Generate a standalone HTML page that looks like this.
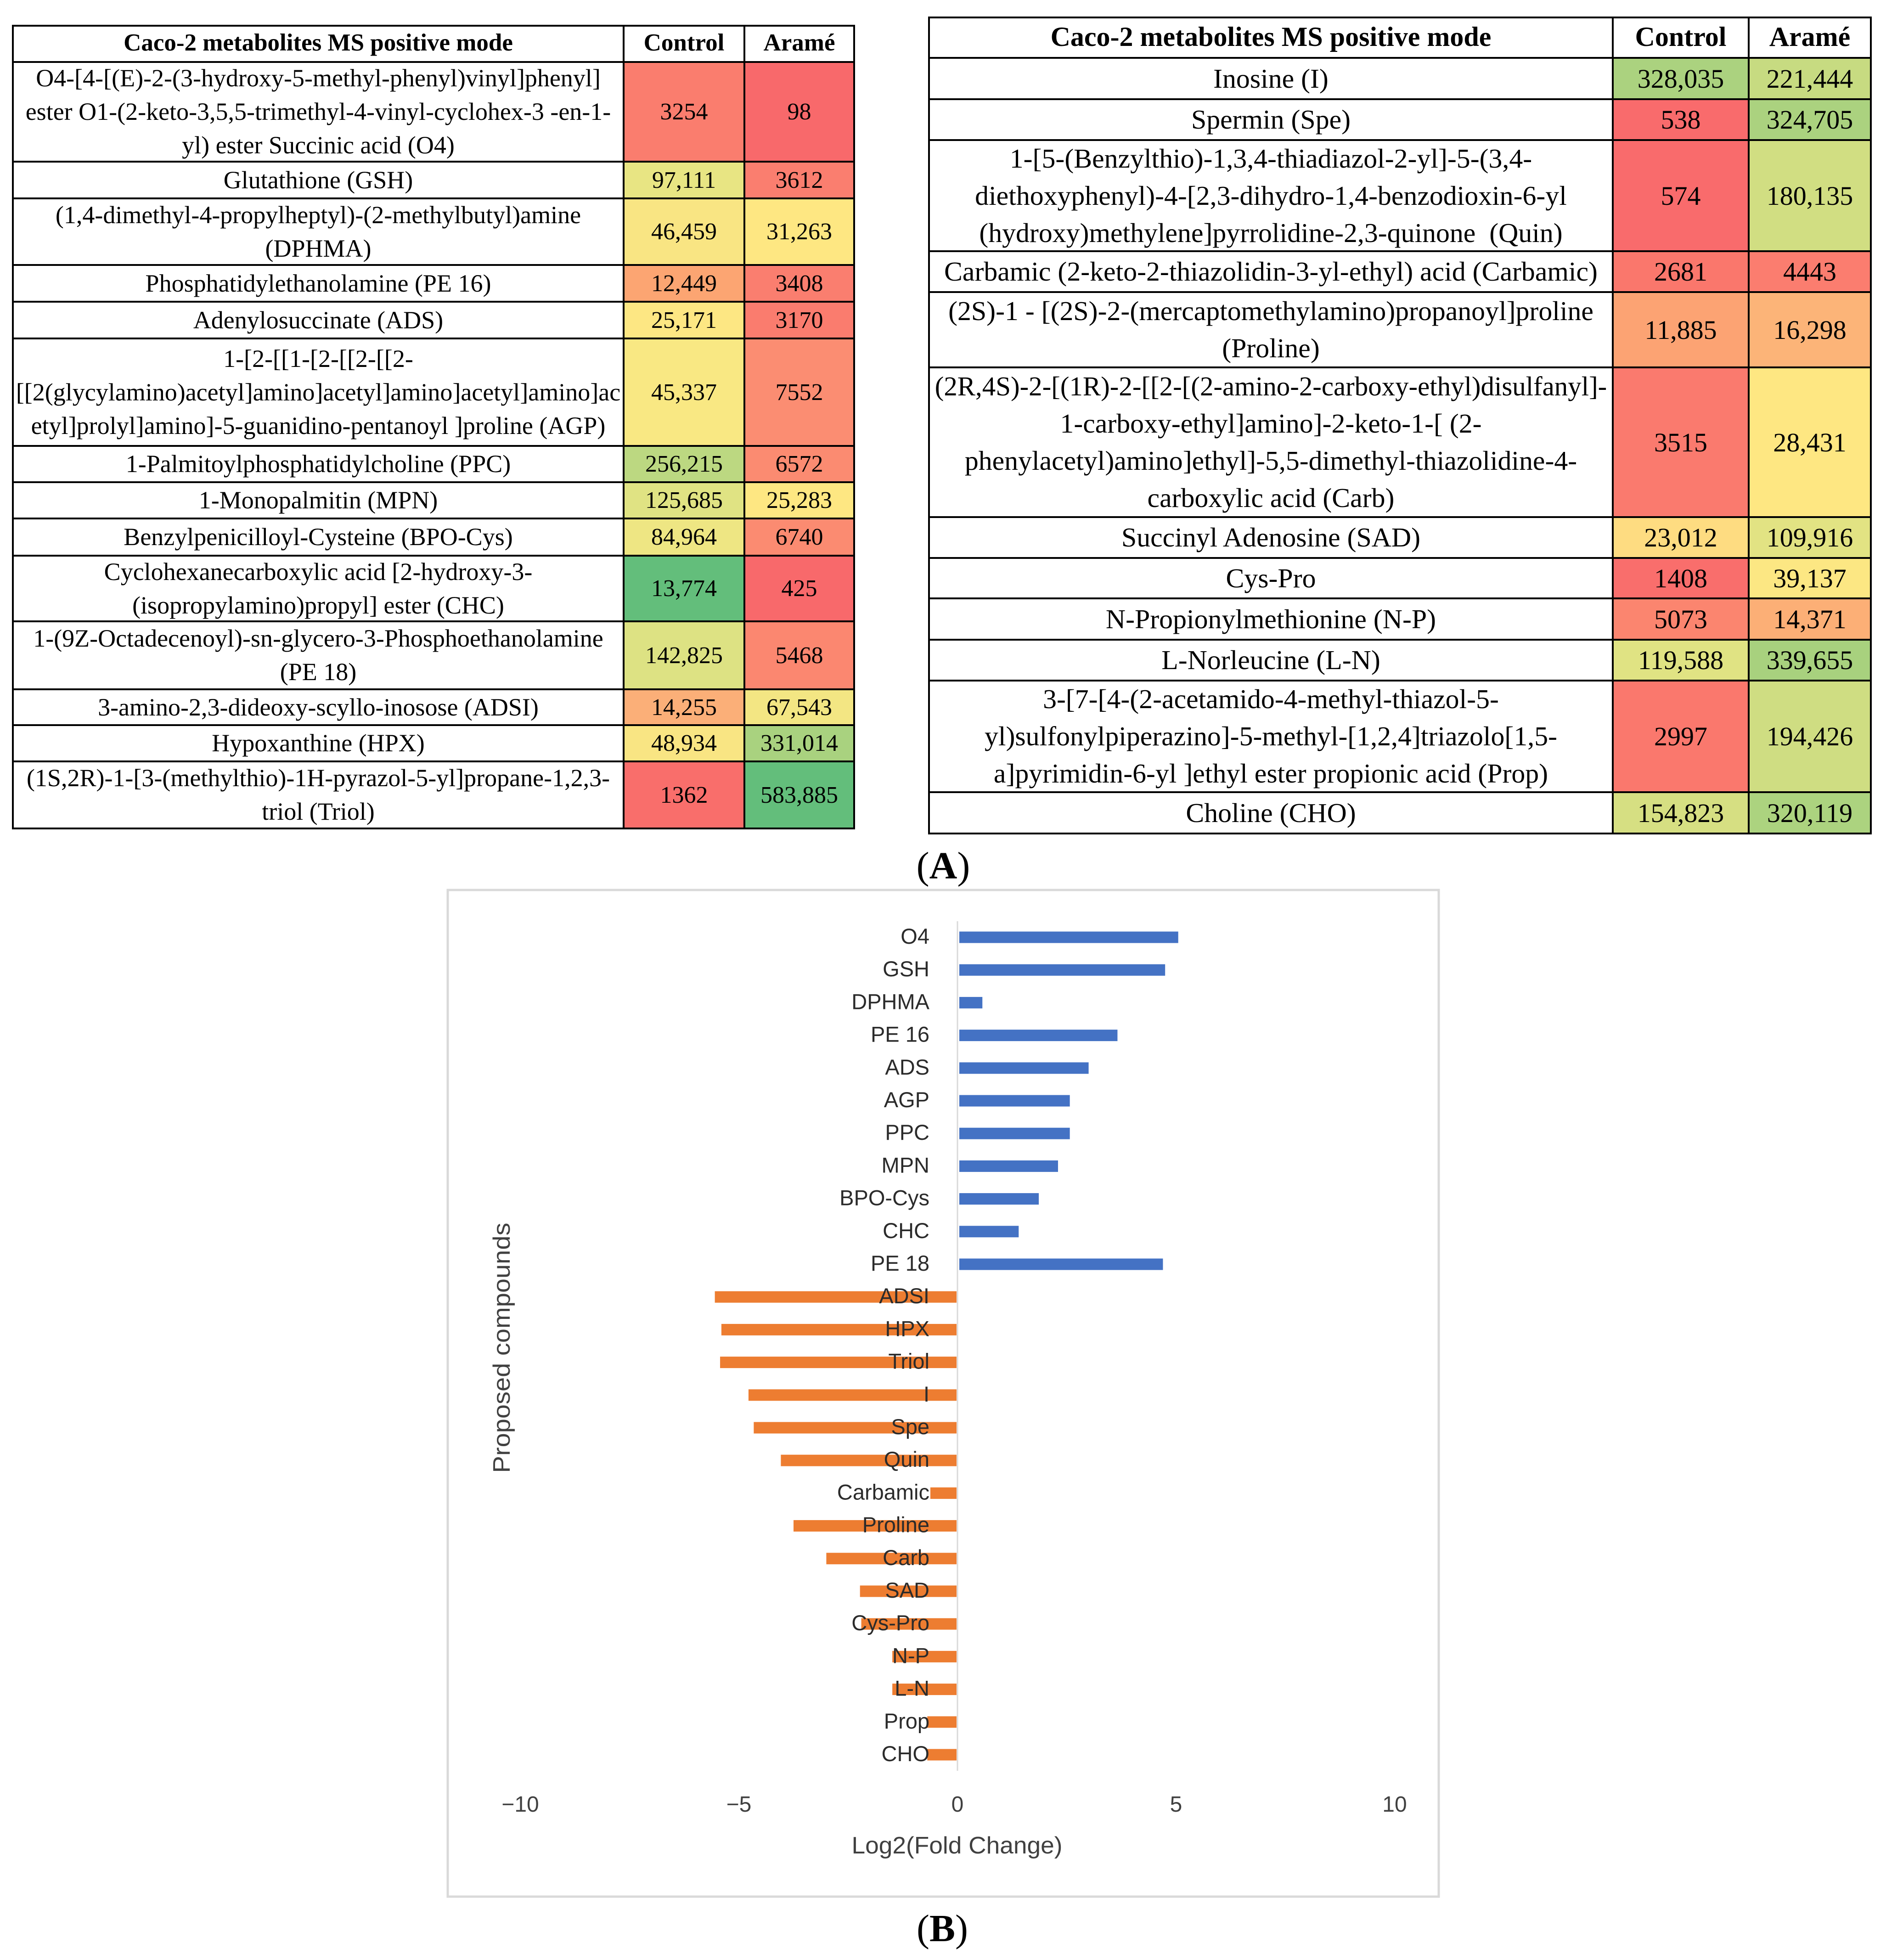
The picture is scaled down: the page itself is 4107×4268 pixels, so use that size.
<!DOCTYPE html>
<html lang="en">
<head>
<meta charset="utf-8">
<title>Caco-2 metabolites MS positive mode</title>
<style>
html,body{margin:0;padding:0;background:#fff;width:4107px;height:4268px;overflow:hidden}
body{position:relative;font-family:"Liberation Serif",serif;color:#000}
.tbl{position:absolute;display:grid;background:#000;gap:4px;padding:4px}
.tbl>div{background:#fff;display:flex;align-items:center;justify-content:center;text-align:center;white-space:nowrap;overflow:visible}
.tbl>div>.cell-text{display:block}
#table-left{left:26px;top:54px;grid-template-columns:1326px 259px 235px;grid-template-rows:75px 213px 76px 141px 76px 76px 230px 75px 75px 77px 139px 144px 74px 75px 142px;font-size:52px;line-height:73px}
#table-right{left:2021px;top:36px;grid-template-columns:1485px 292px 262px;grid-template-rows:84px 86px 85px 238px 85px 160px 322px 85px 84px 86px 85px 239px 86px;font-size:58px;line-height:81px}
#table-left>div:nth-child(3n+1):not(.h){font-size:54px}
#table-right>div:nth-child(3n+1):not(.h){font-size:59.8px}
#table-left .h{font-weight:bold;font-size:53px;padding-bottom:4px;box-sizing:border-box}
#table-right .h{font-weight:bold;font-size:60px;padding-bottom:4px;box-sizing:border-box}
.cap{position:absolute;font-size:84px;line-height:90px;transform:translateX(-50%);white-space:nowrap}
svg{position:absolute;left:0;top:0}
svg text{font-family:"Liberation Sans",sans-serif}
</style>
</head>
<body>

<div class="tbl" id="table-left">
<div class="h">Caco-2 metabolites MS positive mode</div><div class="h">Control</div><div class="h">Aramé</div>
<div><span class="cell-text">O4-[4-[(E)-2-(3-hydroxy-5-methyl-phenyl)vinyl]phenyl]<br>ester O1-(2-keto-3,5,5-trimethyl-4-vinyl-cyclohex-3 -en-1-<br>yl) ester Succinic acid (O4)</span></div><div style="background:#fa7d6e">3254</div><div style="background:#f8696b">98</div>
<div>Glutathione (GSH)</div><div style="background:#e8e583">97,111</div><div style="background:#fa7e6f">3612</div>
<div><span class="cell-text">(1,4-dimethyl-4-propylheptyl)-(2-methylbutyl)amine<br>(DPHMA)</span></div><div style="background:#f9e583">46,459</div><div style="background:#fee782">31,263</div>
<div>Phosphatidylethanolamine (PE 16)</div><div style="background:#fca572">12,449</div><div style="background:#fa7e6f">3408</div>
<div>Adenylosuccinate (ADS)</div><div style="background:#fde783">25,171</div><div style="background:#fa7c6e">3170</div>
<div><span class="cell-text">1-[2-[[1-[2-[[2-[[2-<br>[[2(glycylamino)acetyl]amino]acetyl]amino]acetyl]amino]ac<br>etyl]prolyl]amino]-5-guanidino-pentanoyl ]proline (AGP)</span></div><div style="background:#f9e883">45,337</div><div style="background:#fb8d72">7552</div>
<div>1-Palmitoylphosphatidylcholine (PPC)</div><div style="background:#bcd881">256,215</div><div style="background:#fb8b71">6572</div>
<div>1-Monopalmitin (MPN)</div><div style="background:#e0e383">125,685</div><div style="background:#fee782">25,283</div>
<div>Benzylpenicilloyl-Cysteine (BPO-Cys)</div><div style="background:#eee683">84,964</div><div style="background:#fb8b71">6740</div>
<div><span class="cell-text">Cyclohexanecarboxylic acid [2-hydroxy-3-<br>(isopropylamino)propyl] ester (CHC)</span></div><div style="background:#63be7b">13,774</div><div style="background:#f8696b">425</div>
<div><span class="cell-text">1-(9Z-Octadecenoyl)-sn-glycero-3-Phosphoethanolamine<br>(PE 18)</span></div><div style="background:#dde283">142,825</div><div style="background:#fb8770">5468</div>
<div>3-amino-2,3-dideoxy-scyllo-inosose (ADSI)</div><div style="background:#fbaf78">14,255</div><div style="background:#f3e683">67,543</div>
<div>Hypoxanthine (HPX)</div><div style="background:#f9e583">48,934</div><div style="background:#a9d27f">331,014</div>
<div><span class="cell-text">(1S,2R)-1-[3-(methylthio)-1H-pyrazol-5-yl]propane-1,2,3-<br>triol (Triol)</span></div><div style="background:#f96e6b">1362</div><div style="background:#63be7b">583,885</div>
</div>

<div class="tbl" id="table-right">
<div class="h">Caco-2 metabolites MS positive mode</div><div class="h">Control</div><div class="h">Aramé</div>
<div>Inosine (I)</div><div style="background:#abd27f">328,035</div><div style="background:#c7db81">221,444</div>
<div>Spermin (Spe)</div><div style="background:#f96b6c">538</div><div style="background:#abd27f">324,705</div>
<div><span class="cell-text">1-[5-(Benzylthio)-1,3,4-thiadiazol-2-yl]-5-(3,4-<br>diethoxyphenyl)-4-[2,3-dihydro-1,4-benzodioxin-6-yl<br>(hydroxy)methylene]pyrrolidine-2,3-quinone&nbsp; (Quin)</span></div><div style="background:#f96b6c">574</div><div style="background:#d1de82">180,135</div>
<div>Carbamic (2-keto-2-thiazolidin-3-yl-ethyl) acid (Carbamic)</div><div style="background:#fa776c">2681</div><div style="background:#fb7d6f">4443</div>
<div><span class="cell-text">(2S)-1 - [(2S)-2-(mercaptomethylamino)propanoyl]proline<br>(Proline)</span></div><div style="background:#fca373">11,885</div><div style="background:#fcb478">16,298</div>
<div><span class="cell-text"><span style="font-size:58.9px">(2R,4S)-2-[(1R)-2-[[2-[(2-amino-2-carboxy-ethyl)disulfanyl]-</span><br>1-carboxy-ethyl]amino]-2-keto-1-[ (2-<br>phenylacetyl)amino]ethyl]-5,5-dimethyl-thiazolidine-4-<br>carboxylic acid (Carb)</span></div><div style="background:#fa7a6e">3515</div><div style="background:#fee782">28,431</div>
<div>Succinyl Adenosine (SAD)</div><div style="background:#fedc81">23,012</div><div style="background:#e2e383">109,916</div>
<div>Cys-Pro</div><div style="background:#f96e6c">1408</div><div style="background:#fce783">39,137</div>
<div>N-Propionylmethionine (N-P)</div><div style="background:#fb856f">5073</div><div style="background:#fcaf76">14,371</div>
<div>L-Norleucine (L-N)</div><div style="background:#e0e383">119,588</div><div style="background:#a8d17e">339,655</div>
<div><span class="cell-text">3-[7-[4-(2-acetamido-4-methyl-thiazol-5-<br>yl)sulfonylpiperazino]-5-methyl-[1,2,4]triazolo[1,5-<br>a]pyrimidin-6-yl ]ethyl ester propionic acid (Prop)</span></div><div style="background:#fa786d">2997</div><div style="background:#cfdd82">194,426</div>
<div>Choline (CHO)</div><div style="background:#d6df82">154,823</div><div style="background:#acd37f">320,119</div>
</div>

<div class="cap" style="left:2054px;top:1841px">(<b>A</b>)</div>
<div class="cap" style="left:2052px;top:4155px">(<b>B</b>)</div>

<svg id="chart" width="4107" height="4268" viewBox="0 0 4107 4268" xmlns="http://www.w3.org/2000/svg">
<rect x="975" y="1938" width="2158" height="2192" fill="#fff" stroke="#d9d9d9" stroke-width="5"/>
</svg>

<script>
const categories = ["O4","GSH","DPHMA","PE 16","ADS","AGP","PPC","MPN","BPO-Cys","CHC","PE 18","ADSI","HPX","Triol","I","Spe","Quin","Carbamic","Proline","Carb","SAD","Cys-Pro","N-P","L-N","Prop","CHO"];
const foldChangeValues = [5.05,4.75,0.57,3.66,3.0,2.57,2.57,2.3,1.86,1.4,4.7,-5.55,-5.4,-5.43,-4.78,-4.66,-4.04,-0.62,-3.75,-3.0,-2.23,-2.2,-1.49,-1.49,-0.69,-0.69];
const xTickValues = [-10,-5,0,5,10];
const xAxisTitle = "Log2(Fold Change)";
const yAxisTitle = "Proposed compounds";

const svg = document.getElementById('chart');
const NS = 'http://www.w3.org/2000/svg';
const xScale = v => 2085 + 95.2 * v;
const yScale = i => 2041 + 71.2 * i;
const barHeight = 25;

function make(tag, attrs, parent) {
  const el = document.createElementNS(NS, tag);
  for (const k in attrs) el.setAttribute(k, attrs[k]);
  (parent || svg).appendChild(el);
  return el;
}

foldChangeValues.forEach(function (v, i) {
  const positive = v >= 0;
  const x0 = positive ? xScale(0) + 4 : xScale(v);
  const w = positive ? xScale(v) - xScale(0) - 4 : xScale(0) - 2 - xScale(v);
  const bar = make('rect', {x: x0, y: yScale(i) - barHeight / 2, width: Math.max(0, w), height: barHeight, fill: positive ? '#4472c4' : '#ed7d31'});
  
  
});

const axisLine = make('line', {x1: xScale(0), x2: xScale(0), y1: 2006, y2: 3856, stroke: '#d9d9d9', 'stroke-width': 3});



categories.forEach(function (c, i) {
  const t = make('text', {x: 2024, y: yScale(i) + 14, 'text-anchor': 'end', 'font-size': 47, fill: '#2b2b2b'});
  t.textContent = c;
  
  
});

xTickValues.forEach(function (v) {
  const t = make('text', {x: xScale(v), y: 3945, 'text-anchor': 'middle', 'font-size': 48, fill: '#404040'});
  t.textContent = (v < 0 ? '\u2212' : '') + Math.abs(v);
  
  
});

const xTitle = make('text', {x: 2084, y: 4036, 'text-anchor': 'middle', 'font-size': 52, fill: '#404040', textLength: 459, lengthAdjust: 'spacingAndGlyphs'});
xTitle.textContent = xAxisTitle;



const yTitle = make('text', {x: 0, y: 0, 'text-anchor': 'middle', 'font-size': 52, fill: '#404040', textLength: 545, lengthAdjust: 'spacingAndGlyphs', transform: 'translate(1110 2935) rotate(-90)'});
yTitle.textContent = yAxisTitle;


</script>
</body>
</html>
